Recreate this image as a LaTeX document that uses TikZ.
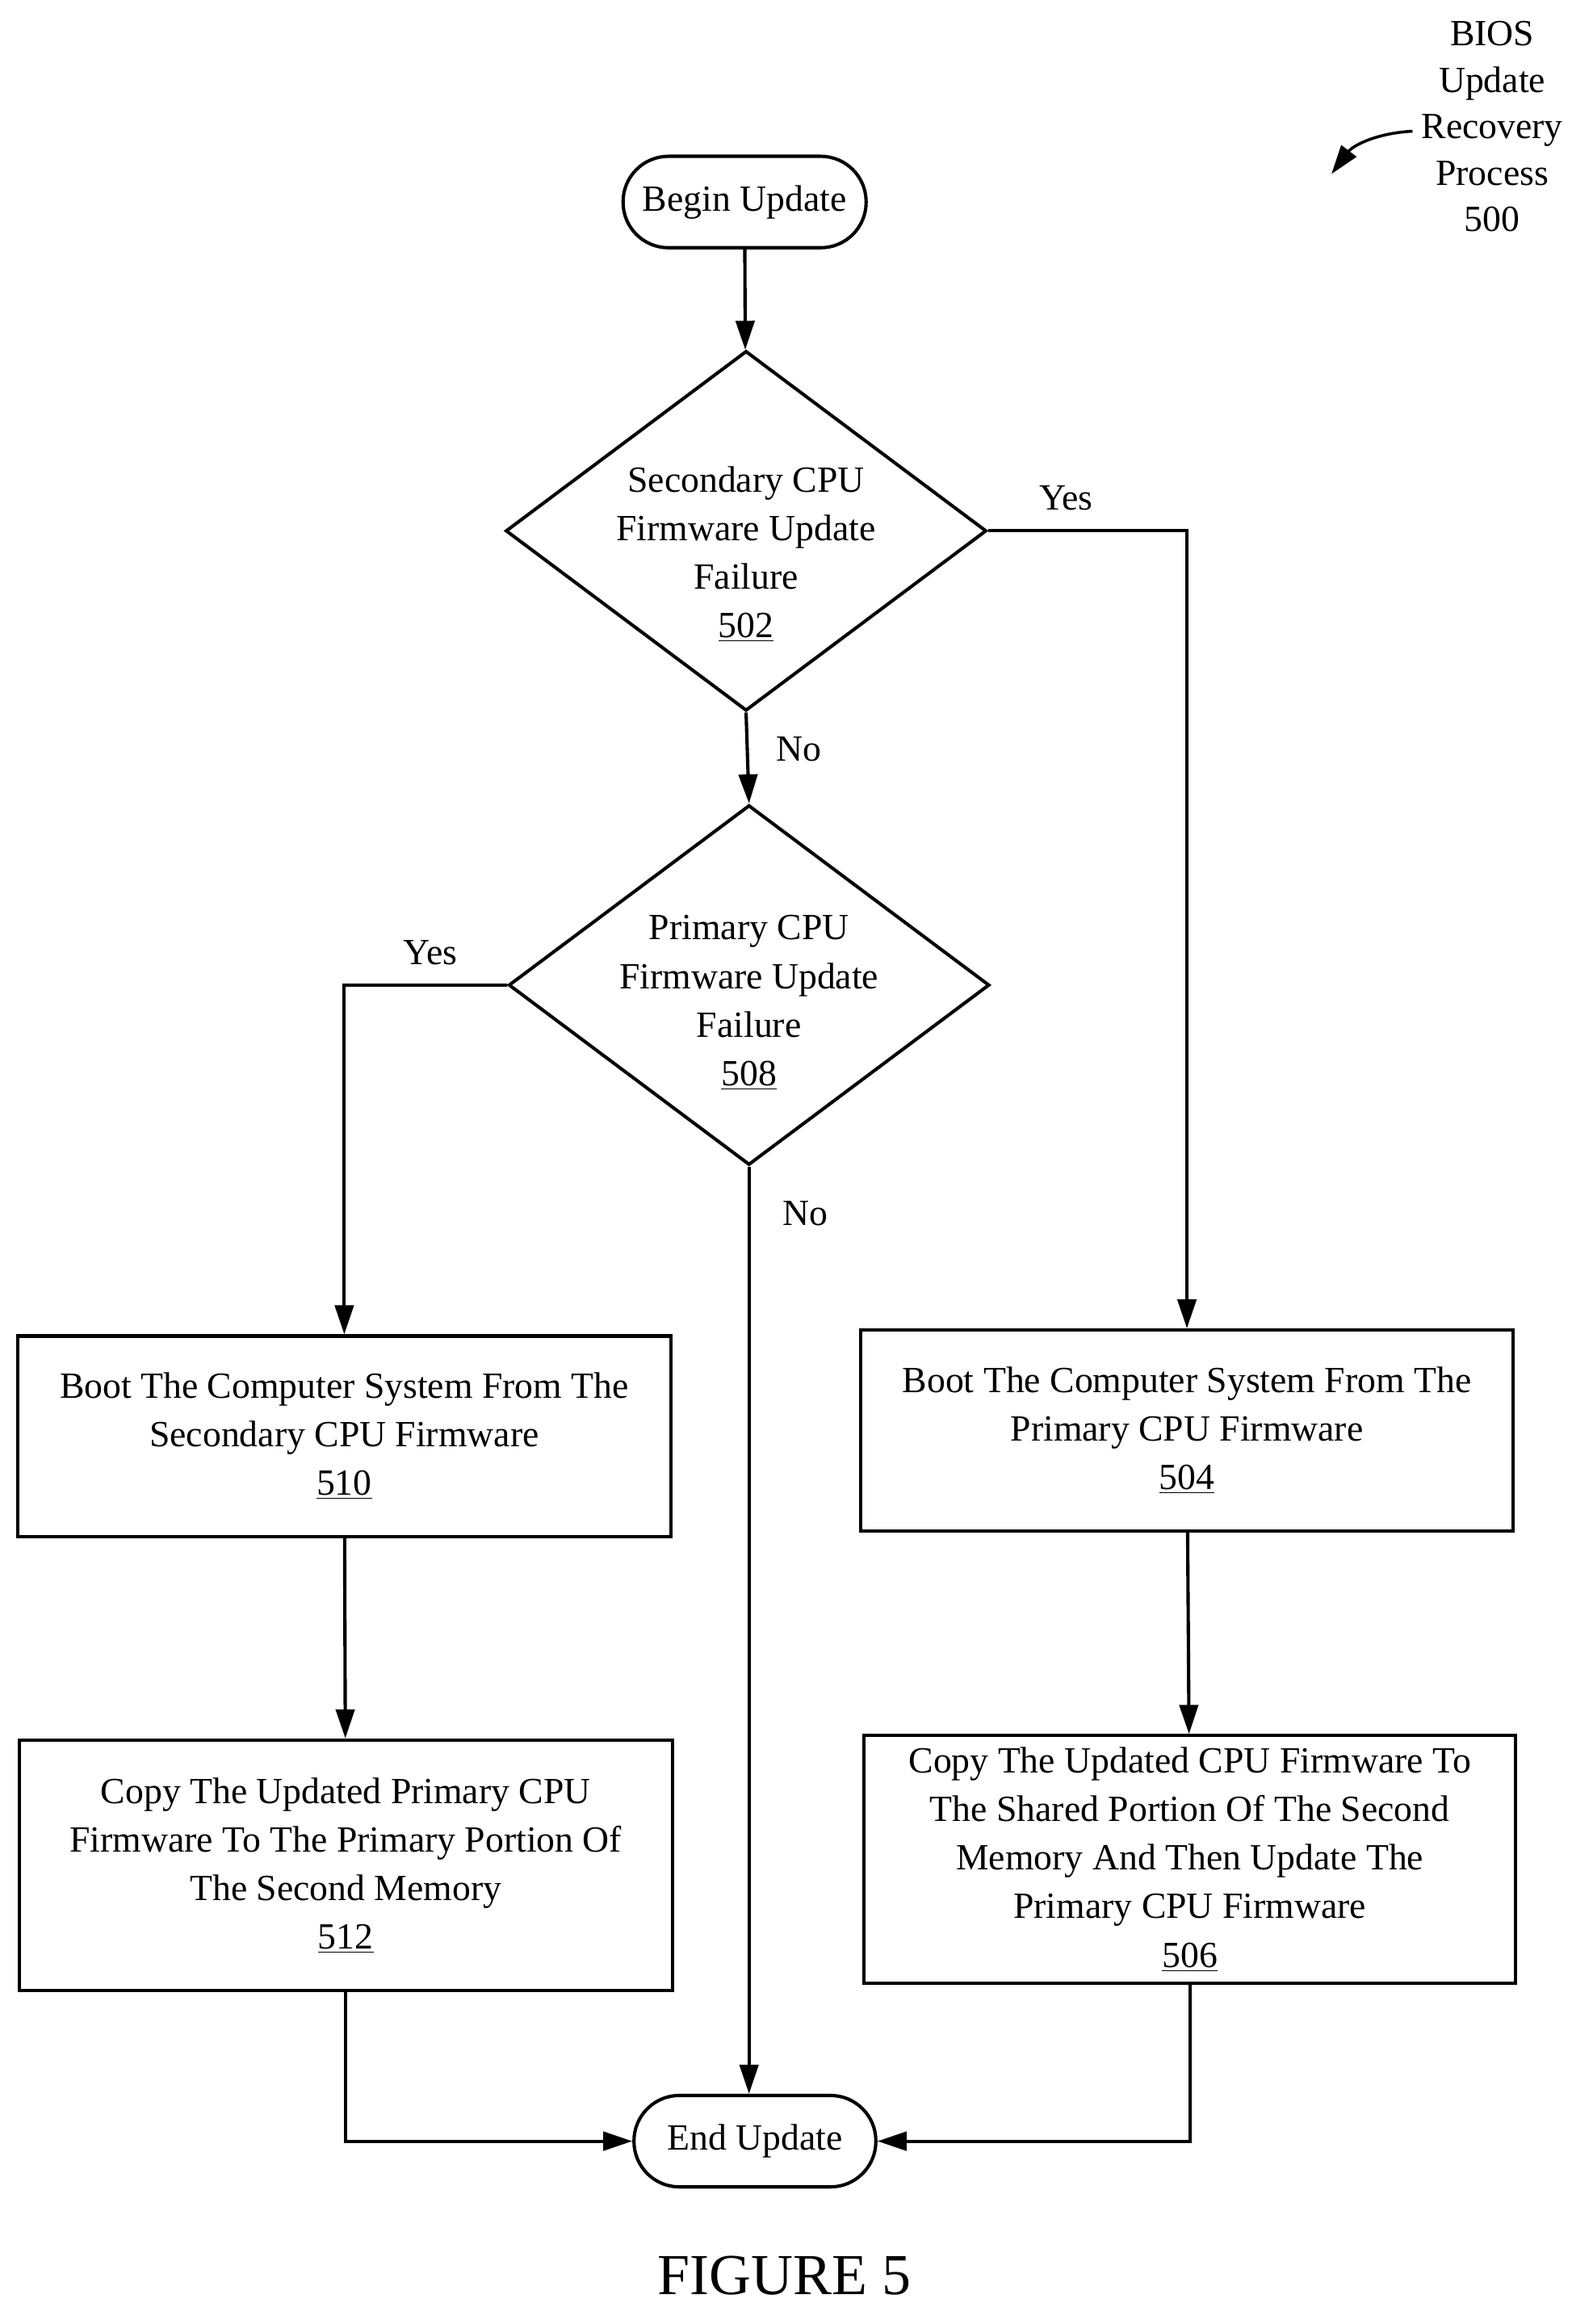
\documentclass[tikz,border=0pt]{standalone}
\usepackage{fontspec}
\setmainfont{Liberation Serif}
\usetikzlibrary{positioning,shapes.geometric,arrows.meta}
\tikzset{
    every node/.style={font=\fontsize{17.8}{23.4}\selectfont},
    stepbox/.style={draw, line width=1.6pt, rectangle, align=center, inner sep=0pt},
    term/.style={draw, line width=1.6pt, rectangle, inner sep=0pt, minimum height=1.55cm},
    decide/.style={draw, line width=1.6pt, diamond, inner sep=0pt, minimum width=8.15cm, minimum height=6.1cm},
    flow/.style={line width=1.6pt, -{Triangle[length=14pt,width=9pt]}},
}
\begin{document}
\begin{tikzpicture}[x=0.025cm, y=-0.025cm]
    \useasboundingbox (0,0) rectangle (1080,1576);
    % title
    \node[align=center] (title) at (1012,86) {BIOS\\[-1pt]Update\\[-1pt]Recovery\\[-1pt]Process\\[-1pt]500};
    \coordinate (tip) at (903,118);
    \draw[flow, line width=1.4pt] (958,89) to[bend right=25] (tip);
    % terminals
    \node[term, rounded corners=0.77cm, minimum width=4.12cm] (begin) at (505,137) {Begin Update};
    \node[term, rounded corners=0.77cm, minimum width=4.1cm] (end) at (512,1452) {End Update};
    % decisions
    \node[decide] (d502) at (506,360) {};
    \node[align=center] at (506,376) {Secondary CPU\\Firmware Update\\Failure\\\underline{502}};
    \node[decide] (d508) at (508,668) {};
    \node[align=center] at (508,680) {Primary CPU\\Firmware Update\\Failure\\\underline{508}};
    % steps
    \node[stepbox, minimum width=11.07cm, minimum height=3.4cm] (s510) at (233.5,974) {Boot The Computer System From The\\Secondary CPU Firmware\\\underline{510}};
    \node[stepbox, minimum width=11.05cm, minimum height=3.4cm] (s504) at (805,970) {Boot The Computer System From The\\Primary CPU Firmware\\\underline{504}};
    \node[stepbox, minimum width=11.07cm, minimum height=4.25cm] (s512) at (234.5,1265) {Copy The Updated Primary CPU\\Firmware To The Primary Portion Of\\The Second Memory\\\underline{512}};
    \node[stepbox, minimum width=11.05cm, minimum height=4.2cm] (s506) at (807,1261) {Copy The Updated CPU Firmware To\\The Shared Portion Of The Second\\Memory And Then Update The\\Primary CPU Firmware\\\underline{506}};
    % connectors
    \draw[flow] (begin) -- (d502);
    \draw[flow] (d502.east) -| (s504.north);
    \node at (723,338) {Yes};
    \draw[flow] (d502.south) -- (d508.north);
    \node at (542,508) {No};
    \draw[flow] (d508.south) -- (d508.south |- end.north);
    \draw[flow] (d508.west) -| (s510.north);
    \node at (292,646) {Yes};
    \node at (546,823) {No};
    \draw[flow] (s510) -- (s512);
    \draw[flow] (s504) -- (s506);
    \draw[flow] (s512.south) |- (end.west);
    \draw[flow] (s506.south) |- (end.east);
    \node[font=\fontsize{28}{32}\selectfont] (fig) at (532,1543) {FIGURE 5};
\end{tikzpicture}
\end{document}
